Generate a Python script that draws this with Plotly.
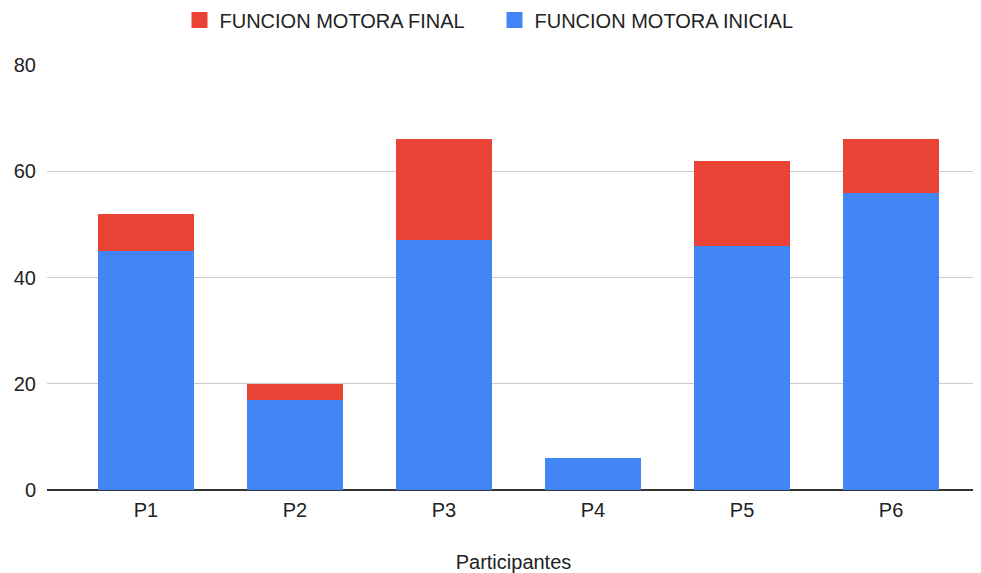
import plotly.graph_objects as go

participantes = ["P1", "P2", "P3", "P4", "P5", "P6"]
inicial = [45, 17, 47, 6, 46, 56]
final = [7, 3, 19, 0, 16, 10]

FONT = "Arial, Liberation Sans, sans-serif"
BLUE = "#4285F4"
RED = "#EA4335"

fig = go.Figure()
fig.add_trace(go.Bar(x=participantes, y=inicial, name="FUNCION MOTORA INICIAL",
                     marker=dict(color=BLUE, line=dict(width=0)), showlegend=False,
                     legendgroup="ini"))
fig.add_trace(go.Bar(x=participantes, y=final, name="FUNCION MOTORA FINAL",
                     marker=dict(color=RED, line=dict(width=0)), showlegend=False,
                     legendgroup="fin"))
# legend entries with larger square symbols
fig.add_trace(go.Scatter(x=[None], y=[None], mode="markers", name="FUNCION MOTORA FINAL",
                         marker=dict(symbol="square", size=19, color=RED), legendgroup="fin"))
fig.add_trace(go.Scatter(x=[None], y=[None], mode="markers", name="FUNCION MOTORA INICIAL",
                         marker=dict(symbol="square", size=19, color=BLUE), legendgroup="ini"))

fig.update_layout(
    barmode="stack",
    bargap=0.35,
    width=973, height=565,
    margin=dict(l=39, r=1, t=57, b=83),
    plot_bgcolor="white", paper_bgcolor="white",
    font=dict(family=FONT, size=20, color="#222222"),
    legend=dict(orientation="h", traceorder="normal", x=0.5, xanchor="center", xref="container",
                y=1 - 12 / 565, yanchor="middle", yref="container",
                font=dict(size=20, color="#222222"), itemsizing="trace",
                entrywidth=270, entrywidthmode="pixels"),
    xaxis=dict(range=[-0.664, 5.597], showgrid=False, ticks="", showline=False,
               ticklabelstandoff=6,
               title=dict(text="Participantes", font=dict(size=20, color="#222222"), standoff=36)),
    yaxis=dict(range=[0, 80], tickvals=[0, 20, 40, 60, 80], showgrid=True,
               gridcolor="#CCCCCC", gridwidth=1, zeroline=True, zerolinecolor="#333333",
               zerolinewidth=1.5, ticks="", ticklabelstandoff=10),
)
fig.write_html("out.html")
